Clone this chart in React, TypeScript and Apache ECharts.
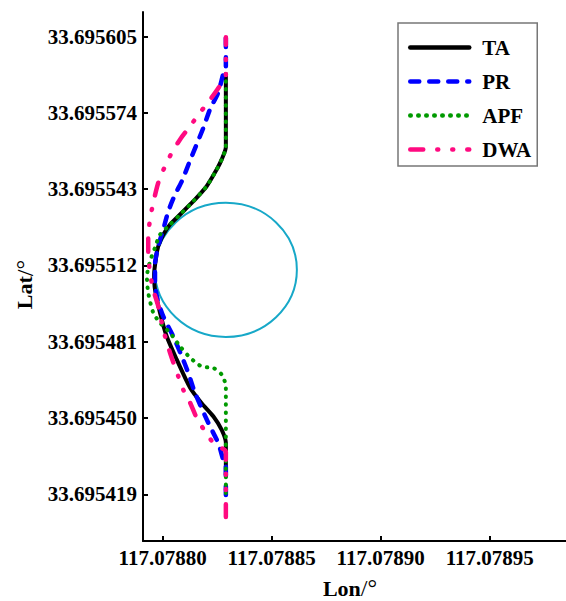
import React, { useEffect, useRef } from "react";
import * as echarts from "echarts";

const LON_TICKS = [117.0788, 117.07885, 117.0789, 117.07895];
const LAT_TICKS = [33.695419, 33.69545, 33.695481, 33.695512, 33.695543, 33.695574, 33.695605];
const LON_MIN = 117.078791;
const LON_MAX = 117.078985;
const LAT_MIN = 33.6954;
const LAT_MAX = 33.695615;

// obstacle: center lon, center lat, lon diameter, lat diameter
const OBSTACLE = [117.078829, 33.6955102, 0.00006514, 0.00005454];

const TA_LON = [117.078829, 117.078829, 117.0788271, 117.0788233, 117.0788179, 117.0788126, 117.0788065, 117.0788019, 117.0787988, 117.0787965, 117.0787961, 117.078797, 117.078798, 117.0788003, 117.0788034, 117.078808, 117.0788141, 117.0788202, 117.0788248, 117.0788271, 117.078829, 117.078829];
const TA_LAT = [33.6954269, 33.6954399, 33.6954452, 33.6954506, 33.695456, 33.6954623, 33.6954737, 33.6954831, 33.6954928, 33.6955022, 33.6955083, 33.6955152, 33.6955198, 33.6955245, 33.6955286, 33.6955327, 33.6955381, 33.6955442, 33.695551, 33.6955551, 33.6955601, 33.6955898];

const PR_LON = [117.078829, 117.078829, 117.0788278, 117.0788255, 117.078821, 117.0788149, 117.0788118, 117.0788088, 117.0788049, 117.0788003, 117.0787977, 117.0787965, 117.0787965, 117.078798, 117.0788003, 117.0788026, 117.0788057, 117.0788088, 117.0788126, 117.0788156, 117.0788187, 117.0788217, 117.0788255, 117.0788278, 117.078829, 117.078829];
const PR_LAT = [33.6954187, 33.6954309, 33.695433, 33.6954398, 33.6954479, 33.6954601, 33.6954682, 33.695475, 33.6954831, 33.6954913, 33.6954981, 33.695505, 33.6955123, 33.6955198, 33.6955266, 33.695534, 33.6955408, 33.6955462, 33.6955547, 33.6955612, 33.695568, 33.6955754, 33.6955823, 33.6955898, 33.6955927, 33.6956051];

const APF_LON = [117.078829, 117.078829, 117.0788271, 117.0788233, 117.0788179, 117.0788126, 117.078808, 117.0788034, 117.0787988, 117.0787957, 117.0787934, 117.0787928, 117.0787942, 117.0787965, 117.0787988, 117.0788034, 117.078808, 117.0788141, 117.0788202, 117.0788248, 117.0788271, 117.078829, 117.078829];
const APF_LAT = [33.6954195, 33.6954627, 33.6954676, 33.6954703, 33.6954709, 33.6954745, 33.6954791, 33.6954846, 33.6954887, 33.6954928, 33.6955009, 33.6955074, 33.6955136, 33.6955192, 33.6955245, 33.6955286, 33.6955327, 33.6955381, 33.6955442, 33.695551, 33.6955551, 33.6955601, 33.6955898];

const DWA_LON = [117.078829, 117.078829, 117.078824, 117.0788195, 117.0788156, 117.0788126, 117.0788095, 117.0788072, 117.0788034, 117.0788003, 117.078798, 117.0787957, 117.0787942, 117.0787934, 117.0787934, 117.0787942, 117.0787957, 117.078798, 117.0788011, 117.0788042, 117.078808, 117.0788126, 117.0788172, 117.0788202, 117.0788255, 117.078829, 117.078829];
const DWA_LAT = [33.6954098, 33.6954362, 33.6954391, 33.6954445, 33.6954501, 33.6954562, 33.6954614, 33.6954669, 33.6954765, 33.6954859, 33.6954954, 33.6955022, 33.6955091, 33.6955172, 33.6955233, 33.6955306, 33.6955374, 33.6955456, 33.6955523, 33.6955578, 33.6955632, 33.6955686, 33.6955742, 33.6955775, 33.695584, 33.6955894, 33.6956047];

const SERIES_NAMES = ["TA", "PR", "APF", "DWA"];

const FONT = "'Liberation Serif', 'Times New Roman', serif";

function pairs(xs: number[], ys: number[]) {
  return xs.map((x, i) => [x, ys[i]]);
}

export default function App() {
  const ref = useRef<HTMLDivElement>(null);
  useEffect(() => {
    if (!ref.current) return;
    const chart = echarts.init(ref.current, null, { renderer: "svg" });
    const labelStyle = { fontFamily: FONT, fontWeight: "bold" as const, fontSize: 21, color: "#000" };
    const nameRich = {
      b: { fontFamily: FONT, fontWeight: "bold", fontSize: 22, color: "#000" },
      n: { fontFamily: FONT, fontSize: 24, color: "#000" },
    };
    chart.setOption({
      animation: false,
      backgroundColor: "#fff",
      grid: { left: 143, right: 0, top: 12, bottom: 60, outerBoundsMode: "none" },
      legend: {
        data: SERIES_NAMES,
        orient: "vertical",
        left: 398,
        top: 23,
        padding: [14, 6, 6, 10],
        itemWidth: 59,
        itemHeight: 20,
        itemGap: 13,
        borderColor: "#777",
        borderWidth: 1.5,
        itemStyle: { opacity: 0 },
        lineStyle: { width: 4.5 },
        textStyle: { fontFamily: FONT, fontWeight: "bold", fontSize: 21, color: "#000", padding: [0, 0, 0, 8] },
      },
      xAxis: {
        type: "value",
        min: LON_MIN,
        max: LON_MAX,
        name: "{b|Lon}{n|/°}",
        nameLocation: "middle",
        nameGap: 35,
        nameTextStyle: { padding: [0, 9, 0, 0], rich: nameRich },
        axisLine: { show: true, lineStyle: { color: "#000", width: 2 } },
        axisTick: { show: true, inside: true, length: 5, lineStyle: { color: "#000", width: 2 }, customValues: LON_TICKS },
        axisLabel: { ...labelStyle, margin: 6, customValues: LON_TICKS, formatter: (v: number) => v.toFixed(5) },
        splitLine: { show: false },
      },
      yAxis: {
        type: "value",
        min: LAT_MIN,
        max: LAT_MAX,
        name: "{b|Lat}{n|/°}",
        nameLocation: "middle",
        nameGap: 97,
        nameTextStyle: { padding: [0, 16, 0, 0], rich: nameRich },
        axisLine: { show: true, lineStyle: { color: "#000", width: 2 } },
        axisTick: { show: true, inside: true, length: 5, lineStyle: { color: "#000", width: 2 }, customValues: LAT_TICKS },
        axisLabel: { ...labelStyle, margin: 6, customValues: LAT_TICKS, formatter: (v: number) => v.toFixed(6) },
        splitLine: { show: false },
      },
      series: [
        {
          type: "custom",
          name: "obstacle",
          data: [OBSTACLE],
          encode: { x: 0, y: 1 },
          renderItem: (params: any, api: any) => {
            const cx = api.value(0);
            const cy = api.value(1);
            const c = api.coord([cx, cy]);
            const s = api.size([api.value(2), api.value(3)], [cx, cy]);
            return {
              type: "ellipse",
              shape: { cx: c[0], cy: c[1], rx: s[0] / 2, ry: s[1] / 2 },
              style: { fill: "none", stroke: "#17a8c8", lineWidth: 2 },
            };
          },
          z: 1,
        },
        {
          type: "line",
          name: "TA",
          data: pairs(TA_LON, TA_LAT),
          showSymbol: false,
          symbol: "none",
          smooth: 0.25,
          lineStyle: { color: "#000", width: 4, type: "solid", cap: "round" },
          itemStyle: { color: "#000" },
          z: 2,
        },
        {
          type: "line",
          name: "PR",
          data: pairs(PR_LON, PR_LAT),
          showSymbol: false,
          symbol: "none",
          smooth: 0.25,
          lineStyle: { color: "#0000ff", width: 4.5, type: [9, 10], cap: "round" },
          itemStyle: { color: "#0000ff" },
          z: 3,
        },
        {
          type: "line",
          name: "APF",
          data: pairs(APF_LON, APF_LAT),
          showSymbol: false,
          symbol: "none",
          smooth: 0.25,
          lineStyle: { color: "#009a00", width: 4, type: [0.5, 7.5], cap: "round" },
          itemStyle: { color: "#009a00" },
          z: 4,
        },
        {
          type: "line",
          name: "DWA",
          data: pairs(DWA_LON, DWA_LAT),
          showSymbol: false,
          symbol: "none",
          smooth: 0.25,
          lineStyle: { color: "#ff0a80", width: 4.5, type: [13, 14, 1, 14, 1, 14], cap: "round" },
          itemStyle: { color: "#ff0a80" },
          z: 5,
        },
      ],
    });
    return () => chart.dispose();
  }, []);
  return (
    <div
      ref={ref}
      style={{ position: "absolute", left: 0, top: 0, width: 566, height: 601 }}
    />
  );
}
